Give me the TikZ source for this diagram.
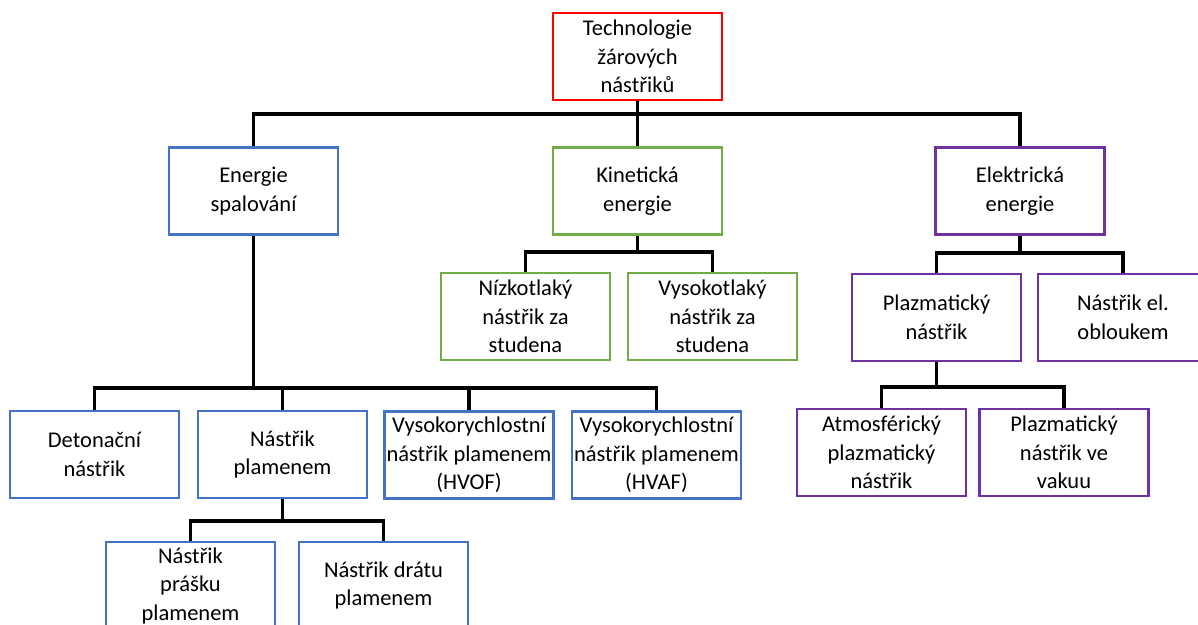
\documentclass[tikz,border=0pt]{standalone}
\usepackage{fontspec}
\setmainfont{Carlito}
\definecolor{cblue}{HTML}{4472C4}
\definecolor{cgreen}{HTML}{70AD47}
\definecolor{cpurple}{HTML}{7030A0}
\definecolor{cred}{HTML}{FF0000}
\begin{document}
\begin{tikzpicture}[x=1pt,y=-1pt,
  box/.style={draw, line width=2.4pt, fill=white, rectangle, minimum width=169pt, minimum height=87pt, inner sep=0pt, align=center, font=\fontsize{22.5}{28.5}\selectfont},
  bl/.style={box, draw=cblue},
  gr/.style={box, draw=cgreen},
  pu/.style={box, draw=cpurple},
  rd/.style={box, draw=cred},
  conn/.style={draw=black, line width=3.4pt}]
\useasboundingbox (0,0) rectangle (1198,624);
\node[rd] (root) at (637.5,56.5) {Technologie\\žárových\\nástřiků};
\node[bl] (es) at (253.5,191) {Energie\\spalování};
\node[gr] (ke) at (637.5,191) {Kinetická\\energie};
\node[pu] (ee) at (1020,191) {Elektrická\\energie};
\node[gr] (nz) at (525.5,316.5) {Nízkotlaký\\nástřik za\\studena};
\node[gr] (vy) at (712.5,316.5) {Vysokotlaký\\nástřik za\\studena};
\node[pu] (pl) at (936.5,317.5) {Plazmatický\\nástřik};
\node[pu, minimum width=170pt] (eo) at (1123,317.5) {Nástřik el.\\obloukem};
\node[bl] (det) at (94.5,454.5) {Detonační\\nástřik};
\node[bl] (np) at (282.5,454.5) {Nástřik\\plamenem};
\node[bl] (hvof) at (469,455) {Vysokorychlostní\\nástřik plamenem\\(HVOF)};
\node[bl] (hvaf) at (656.5,455) {Vysokorychlostní\\nástřik plamenem\\(HVAF)};
\node[bl] (ps) at (190.5,585.5) {Nástřik\\prášku\\plamenem};
\node[bl] (nd) at (383.5,585.5) {Nástřik drátu\\plamenem};
\node[pu] (atm) at (881.5,452.5) {Atmosférický\\plazmatický\\nástřik};
\node[pu] (vak) at (1064,452.5) {Plazmatický\\nástřik ve\\vakuu};
% bus coordinates
\coordinate (b1) at (637.5,114);
\coordinate (b2) at (253.5,388);
\coordinate (b3) at (637.5,252);
\coordinate (b4) at (1020,253);
\coordinate (b5) at (936.5,387);
\coordinate (b6) at (282.5,521);
% connectors
\draw[conn] (root.south) -- (b1);
\draw[conn] (es.north) |- (b1) -| (ee.north);
\draw[conn] (b1) -- (ke.north);
\draw[conn] (es.south) -- (b2);
\draw[conn] (det.north) |- (b2) -| (hvaf.north);
\draw[conn] (np.north) -- (np.north |- b2);
\draw[conn] (hvof.north) -- (hvof.north |- b2);
\draw[conn] (ke.south) -- (b3);
\draw[conn] (nz.north) |- (b3) -| (vy.north);
\draw[conn] (ee.south) -- (b4);
\draw[conn] (pl.north) |- (b4) -| (eo.north);
\draw[conn] (pl.south) -- (b5);
\draw[conn] (atm.north) |- (b5) -| (vak.north);
\draw[conn] (np.south) -- (b6);
\draw[conn] (ps.north) |- (b6) -| (nd.north);
\end{tikzpicture}
\end{document}
